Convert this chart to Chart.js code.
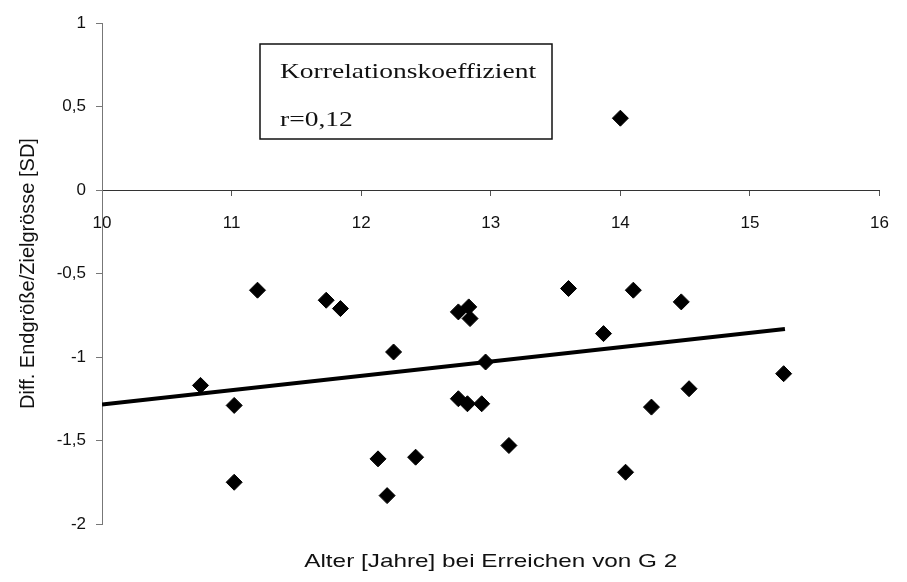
<!DOCTYPE html>
<html>
<head>
<meta charset="utf-8">
<script src="https://cdn.jsdelivr.net/npm/chart.js@4"></script>
<style>
    html, body { margin: 0; padding: 0; background: #fff; }
    #scatterChart { display: block; }
</style>
</head>
<body>
<canvas id="scatterChart" width="907" height="582"></canvas>
<script>
// Alter bei Erreichen von G2 (Jahre) und Diff. Endgrösse/Zielgrösse (SD)
const ageValues = [
    10.76, 11.02, 11.02, 11.20, 11.73, 11.84, 12.13, 12.20, 12.25, 12.42,
    12.75, 12.75, 12.83, 12.84, 12.82, 12.93, 12.96, 13.14, 13.60, 13.87,
    14.00, 14.04, 14.10, 14.24, 14.47, 14.53, 15.26,
];
const diffValues = [
    -1.17, -1.29, -1.75, -0.60, -0.66, -0.71, -1.61, -1.83, -0.97, -1.60,
    -0.73, -1.25, -0.70, -0.77, -1.28, -1.28, -1.03, -1.53, -0.59, -0.86,
    0.43, -1.69, -0.60, -1.30, -0.67, -1.19, -1.10,
];

// Regressionsgerade (Endpunkte aus der Abbildung)
const trendX = [10, 15.27];
const trendY = [-1.285, -0.833];

const xTicks = [10, 11, 12, 13, 14, 15, 16];
const yTicks = [-2, -1.5, -1, -0.5, 0, 0.5, 1];

const xTitle = 'Alter [Jahre] bei Erreichen von G 2';
const yTitle = 'Diff. Endgröße/Zielgrösse [SD]';
const boxLines = ['Korrelationskoeffizient', 'r=0,12'];

const sansFont = '"Liberation Sans", Arial, sans-serif';
const serifFont = '"Liberation Serif", "Times New Roman", serif';

// the scanned original is a bit wider than tall, so stretch the text a little
function stretchedText(ctx, text, x, y, stretch, align) {
    ctx.save();
    ctx.translate(x, y);
    ctx.scale(stretch, 1);
    ctx.textAlign = align;
    ctx.fillText(text, 0, 0);
    ctx.restore();
}

const extras = {
    id: 'extras',
    afterDraw(chart) {
        const { ctx, chartArea } = chart;
        ctx.save();
        ctx.fillStyle = '#111';
        ctx.textBaseline = 'alphabetic';

        ctx.font = '19px ' + sansFont;
        stretchedText(ctx, xTitle, (chartArea.left + chartArea.right) / 2, 567, 1.28, 'center');

        ctx.strokeStyle = '#111';
        ctx.lineWidth = 1.5;
        ctx.strokeRect(260, 44, 292, 95);
        ctx.font = '22px ' + serifFont;
        stretchedText(ctx, boxLines[0], 280, 78, 1.25, 'left');
        stretchedText(ctx, boxLines[1], 280, 126, 1.25, 'left');
        ctx.restore();
    },
};

const points = ageValues.map((x, i) => ({ x, y: diffValues[i] }));
const trend = trendX.map((x, i) => ({ x, y: trendY[i] }));

new Chart(document.getElementById('scatterChart'), {
    type: 'scatter',
    data: {
        datasets: [{
            data: points,
            pointStyle: 'rectRot',
            pointRadius: 8,
            pointBackgroundColor: '#000',
            pointBorderColor: '#000',
            pointBorderWidth: 1,
        }, {
            data: trend,
            showLine: true,
            borderColor: '#000',
            borderWidth: 4,
            pointRadius: 0,
            fill: false,
        }],
    },
    options: {
        responsive: false,
        animation: false,
        devicePixelRatio: 1,
        layout: { padding: { top: 23, left: 0, right: 16, bottom: 58 } },
        plugins: {
            legend: { display: false },
            tooltip: { enabled: false },
        },
        scales: {
            x: {
                type: 'linear',
                position: { y: 0 },
                min: 10,
                max: 16,
                afterBuildTicks: (axis) => { axis.ticks = xTicks.map((v) => ({ value: v })); },
                afterFit: (axis) => { axis.height = 0; },
                ticks: {
                    autoSkip: false,
                    maxRotation: 0,
                    padding: 18,
                    color: '#111',
                    font: { family: sansFont, size: 17 },
                },
                grid: { drawOnChartArea: false, tickLength: 5, color: '#555' },
                border: { display: true, color: '#333', width: 1 },
            },
            y: {
                type: 'linear',
                min: -2,
                max: 1,
                afterBuildTicks: (axis) => { axis.ticks = yTicks.map((v) => ({ value: v })); },
                afterFit: (axis) => { axis.width = 102; },
                ticks: {
                    padding: 10,
                    color: '#111',
                    font: { family: sansFont, size: 17 },
                    callback: (v) => String(v).replace('.', ','),
                },
                grid: { drawOnChartArea: false, tickLength: 6, color: '#777' },
                border: { display: true, color: '#777', width: 1 },
                title: {
                    display: true,
                    text: yTitle,
                    color: '#111',
                    font: { family: sansFont, size: 20 },
                    padding: { top: 16, bottom: 0 },
                },
            },
        },
    },
    plugins: [extras],
});
</script>
</body>
</html>
